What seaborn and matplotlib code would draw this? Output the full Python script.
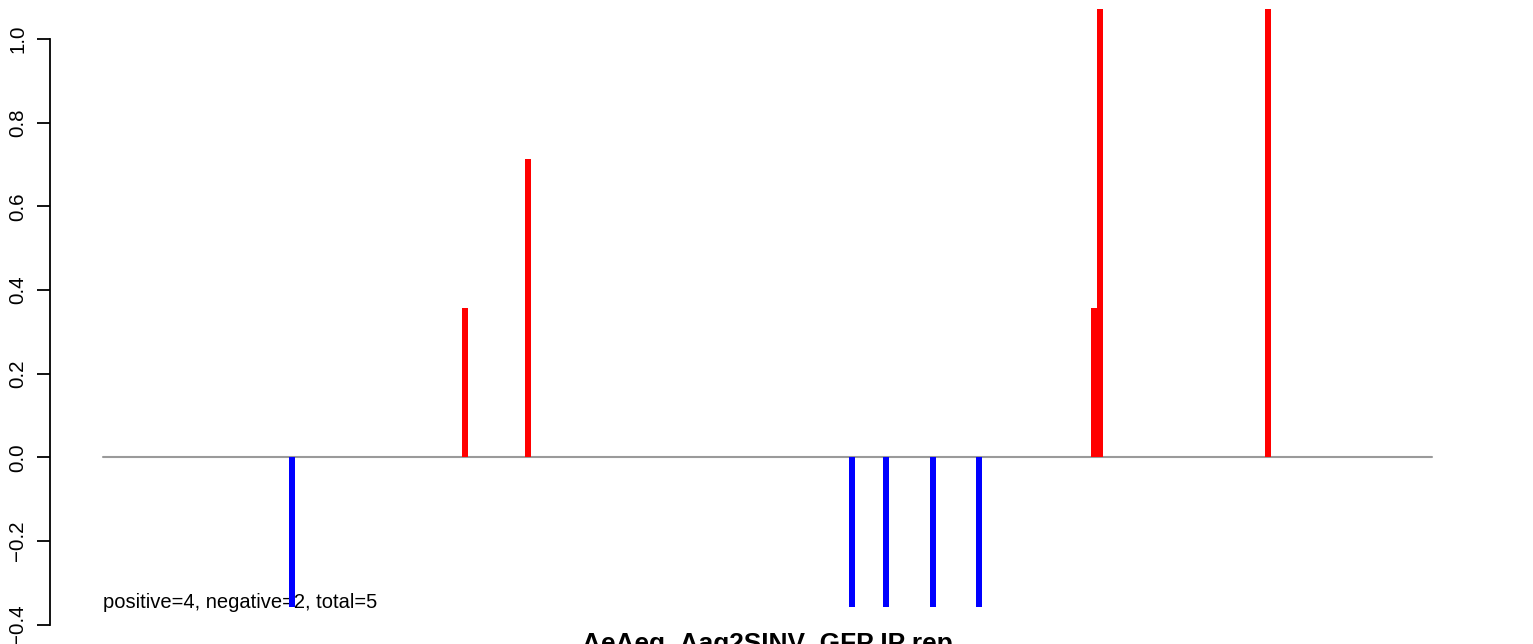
import matplotlib
matplotlib.use("Agg")
import matplotlib.pyplot as plt
import seaborn as sns
import pandas as pd
import numpy as np

# ---- data ----
positions = [189, 362, 425, 749, 783, 830, 876, 991, 997, 1165]
values = [-0.357, 0.357, 0.714, -0.357, -0.357, -0.357, -0.357, 0.357, 1.071, 1.071]
line_start, line_end = 0, 1329
summary_text = "positive=4, negative=2, total=5"
title_text = "AeAeg_Aag2SINV_GFP IP rep"
y_ticks = [-0.4, -0.2, 0.0, 0.2, 0.4, 0.6, 0.8, 1.0]

sns.set_style("white")
plt.rcParams["font.family"] = ["Liberation Sans", "DejaVu Sans"]

W, H = 1533, 644
fig = plt.figure(figsize=(W / 100, H / 100), dpi=100)

# R-style 4% padding
ymin, ymax = min(values), max(values)
yr = ymax - ymin
ylo, yhi = ymin - 0.04 * yr, ymax + 0.04 * yr
xr = line_end - line_start
xlo, xhi = line_start - 0.04 * xr, line_end + 0.04 * xr

# pixel geometry
px_zero = 457.4
px_per_unit = 418.4
top_px = px_zero - px_per_unit * yhi
bot_px = px_zero - px_per_unit * ylo
left_px = 103 - 0.04 * xr
right_px = 1432 + 0.04 * xr
ax = fig.add_axes([left_px / W, (H - bot_px) / H, (right_px - left_px) / W, (bot_px - top_px) / H])

df = pd.DataFrame({
    "pos": positions,
    "val": values,
    "sign": ["pos" if v > 0 else "neg" for v in values],
})

ax.plot([line_start, line_end], [0, 0], color="#9a9a9a", lw=1.5, zorder=1)

sns.barplot(data=df, x="pos", y="val", hue="sign", native_scale=True,
            palette={"pos": "#FF0000", "neg": "#0000FF"}, saturation=1,
            dodge=False, width=1.0, linewidth=0, legend=False, ax=ax, zorder=3)

ax.set_xlim(xlo, xhi)
ax.set_ylim(ylo, yhi)
ax.set_xlabel("")
ax.set_ylabel("")
ax.set_xticks([])
ax.set_yticks(y_ticks)
ax.set_yticklabels([f"{t:.1f}".replace("-", "\u2212") for t in y_ticks],
                   rotation=90, va="center", fontsize=14.8)
for s in ["top", "right", "bottom"]:
    ax.spines[s].set_visible(False)
ax.spines["left"].set_bounds(-0.4, 1.0)
ax.spines["left"].set_linewidth(1.3)
ax.spines["left"].set_color("black")
ax.tick_params(axis="y", direction="out", length=9.4, width=1.3, pad=7, colors="black", left=True)
ax.patch.set_alpha(0)

ax.text(line_start, -0.36, summary_text, fontsize=14.5, ha="left", va="baseline",
        color="black", zorder=2)

cx = (left_px + right_px) / 2 / W
fig.text(cx, (H - 651) / H, title_text, fontsize=18.9, fontweight="bold",
         ha="center", va="baseline", color="black")

fig.savefig("out.png", dpi=100)
